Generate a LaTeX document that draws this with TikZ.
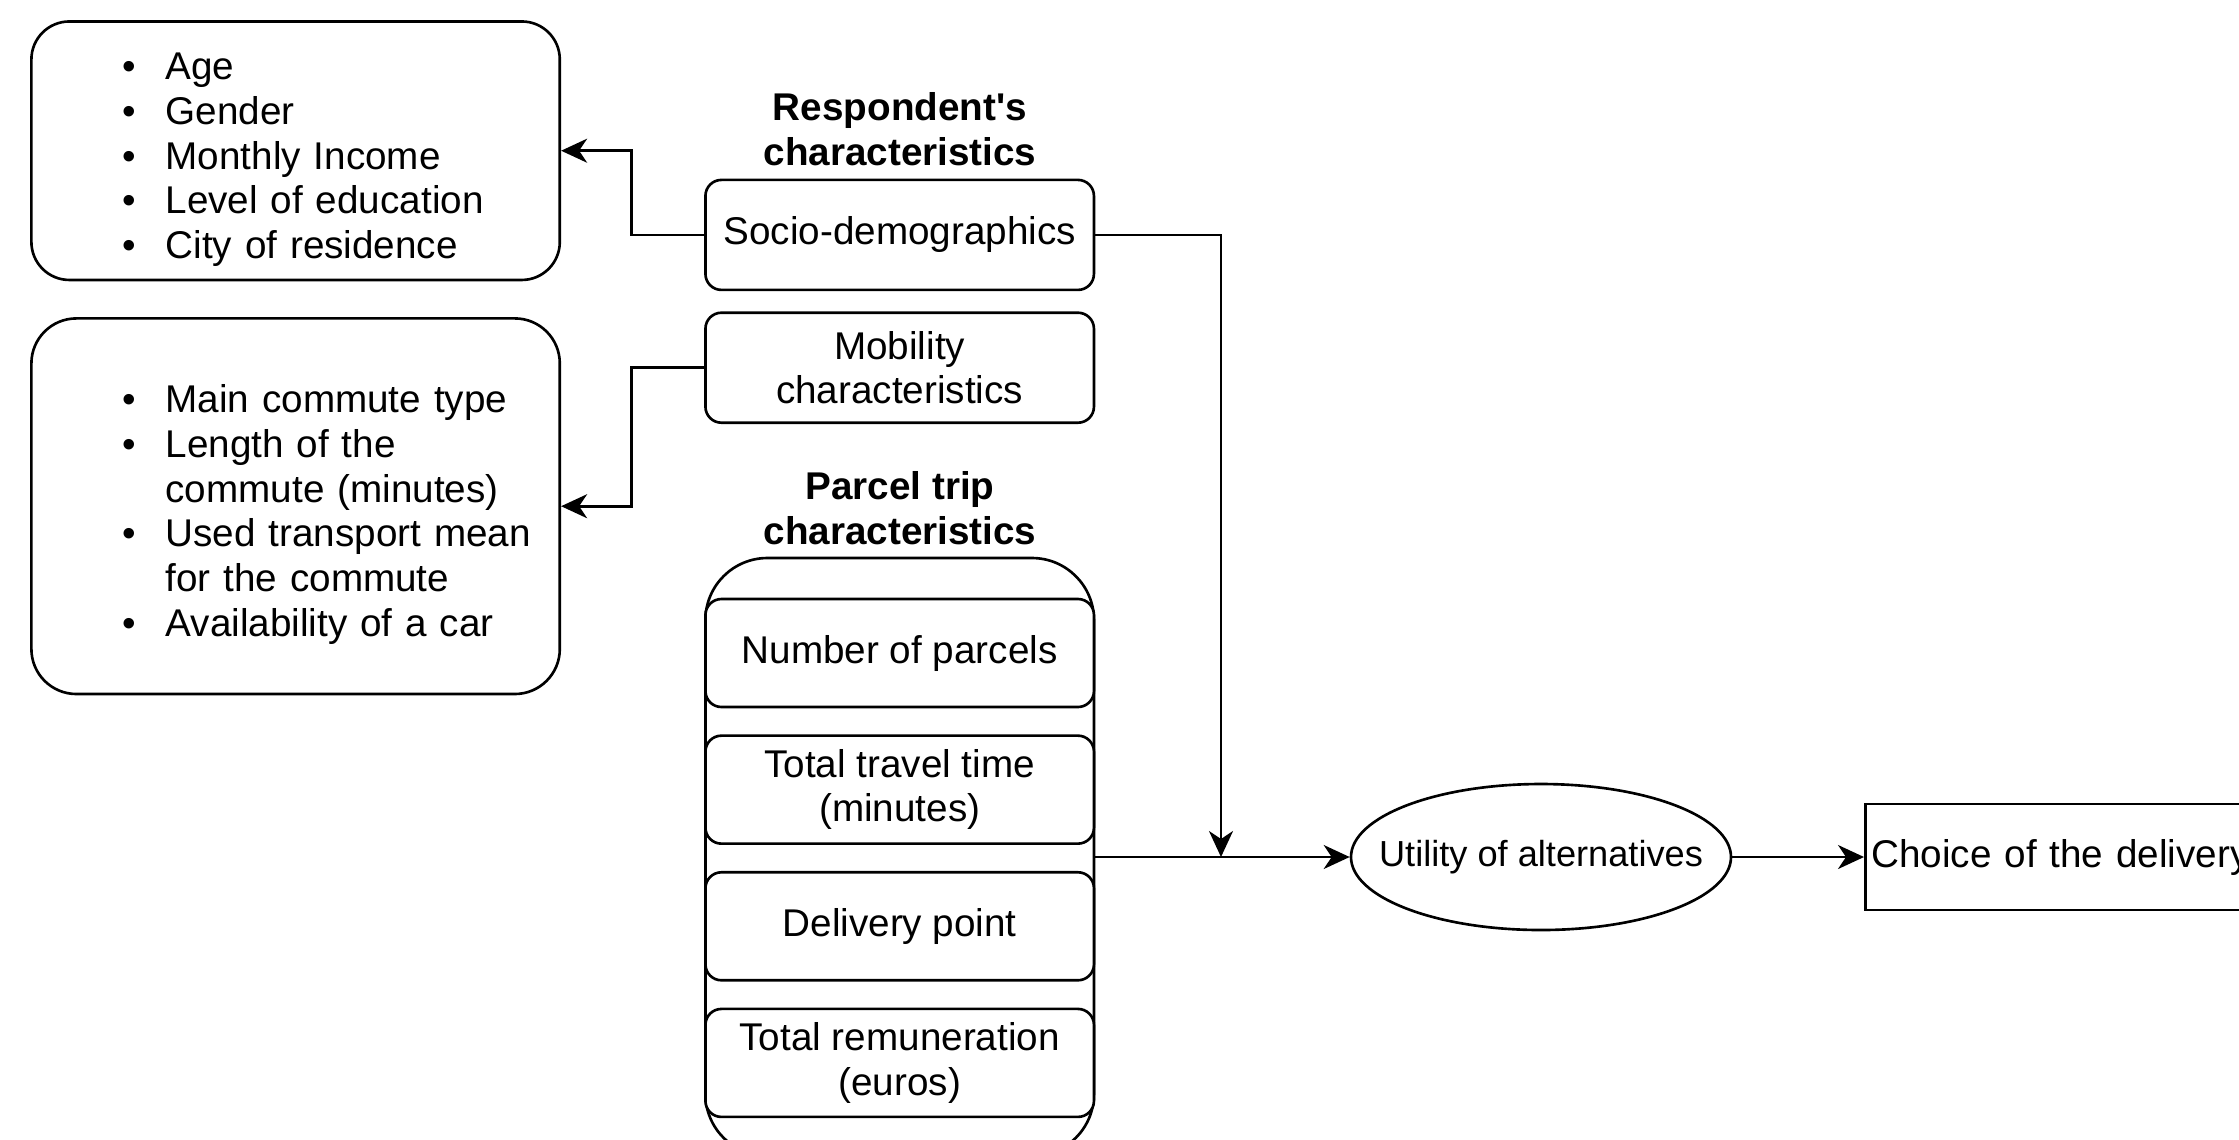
\documentclass[tikz,border=0pt]{standalone}
\usepackage{fontspec}
\setmainfont{Liberation Sans}
\usepackage{enumitem}
\usetikzlibrary{shapes.geometric,arrows.meta,positioning}

\begin{document}
\begin{tikzpicture}[->,>={Stealth[length=2.6mm,width=2.4mm,inset=0.8mm]},line width=0.75pt,font=\fontsize{11}{12.7}\selectfont]
                \tikzstyle{listbox}=[draw,minimum width=5.284cm,text width=4.8cm,inner xsep=0pt,align=left]
                \tikzstyle{charbox}=[draw,rounded corners=0.16cm,minimum width=3.885cm,minimum height=1.10cm,align=center,fill=white]
                \tikzstyle{title}=[font=\fontsize{11}{12.7}\selectfont\bfseries,align=center]
                \tikzstyle{tripbox}=[charbox,minimum height=1.08cm]

                \useasboundingbox (0,0) rectangle (22.39,-11.39);
                \clip (0,0) rectangle (22.39,-11.39);

                \node[title] at (9.0,-1.29) (t_resp) {Respondent\textquotesingle s\\characteristics};
                \node[charbox] at (8.997,-2.349) (c_socio) {Socio-demographics};
                \node[charbox] at (8.997,-3.677) (c_mob) {Mobility\\characteristics};
                \node[title] at (9.0,-5.08) (t_trip) {Parcel trip\\characteristics};

                \node[draw,rounded corners=0.62cm,minimum width=3.885cm,minimum height=5.98cm] at (8.997,-8.57) (c_trip) {};
                \node[tripbox] at (8.997,-6.53) (p_num) {Number of parcels};
                \node[tripbox] (p_time) [below=0.26cm of p_num] {Total travel time\\(minutes)};
                \node[tripbox] (p_point) [below=0.26cm of p_time] {Delivery point};
                \node[tripbox] (p_pay) [below=0.26cm of p_point] {Total remuneration\\(euros)};

                \node[listbox,rounded corners=0.38cm,minimum height=2.585cm] at (2.956,-1.507) (l_socio) {%
                  \begin{itemize}[nosep,leftmargin=1.1cm,labelsep=0.3cm,label=\textbullet]
                    \item Age
                    \item Gender
                    \item Monthly Income
                    \item Level of education
                    \item City of residence
                  \end{itemize}\vspace{0.06cm}};
                \node[listbox,rounded corners=0.45cm,minimum height=3.756cm] at (2.956,-5.062) (l_mob) {%
                  \begin{itemize}[nosep,leftmargin=1.1cm,labelsep=0.3cm,label=\textbullet]
                    \item Main commute type
                    \item Length of the\\commute (minutes)
                    \item Used transport mean\\for the commute
                    \item Availability of a car
                  \end{itemize}\vspace{0.08cm}};

                \node[ellipse,draw,minimum width=3.80cm,minimum height=1.46cm,inner xsep=-0.3cm,inner ysep=0pt,font=\fontsize{10.3}{12}\selectfont] at (15.41,-8.57) (u_alt) {Utility of alternatives};
                \node[draw,anchor=west,minimum height=1.06cm,text width=4.6cm,inner xsep=0.06cm,align=left] at (18.64,-8.57) (ch_del) {Choice of the delivery};

                \coordinate (join) at (12.21,-8.57);

                \draw (c_socio.west) -- ++(-0.724,0) |- (l_socio.east);
                \draw (c_mob.west) -- ++(-0.724,0) |- (l_mob.east);
                \draw (c_socio.east) -| (join);
                \draw (c_trip.east) -- (u_alt.west);
                \draw (u_alt.east) -- (ch_del.west);
\end{tikzpicture}
\end{document}
